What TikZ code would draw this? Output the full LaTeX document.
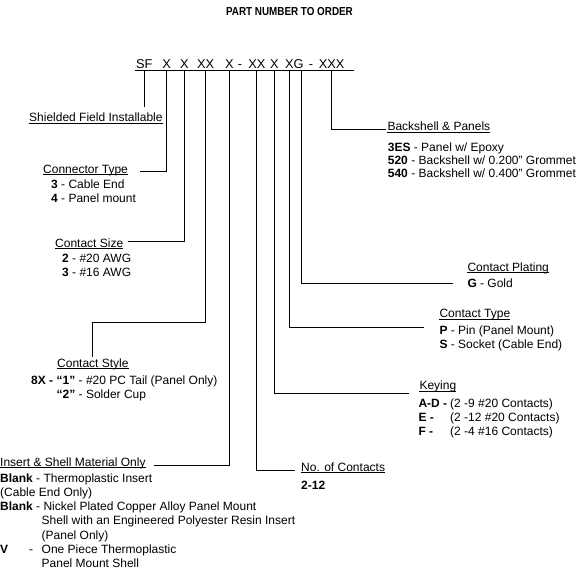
\documentclass[tikz,border=0pt]{standalone}
\usepackage{fontspec}
\setmainfont{Liberation Sans}
\usepackage{graphicx}
\begin{document}
\begin{tikzpicture}[x=1pt, y=1pt,
    lbl/.style={anchor=base west, inner sep=0pt, font=\fontsize{12}{14}\selectfont},
    lst/.style={lbl, align=left},
    code/.style={anchor=base, inner sep=0pt, font=\fontsize{12.8}{14}\selectfont},
    lead/.style={line width=1pt},
    ulline/.style={line width=0.7pt}]
  \useasboundingbox[fill=white] (0,0) rectangle (576,-582);

  % title
  \node[anchor=base, inner sep=0pt, font=\fontsize{11.6}{14}\selectfont\bfseries] (title) at (289.5,-15) {\scalebox{0.85}[1]{PART NUMBER TO ORDER}};

  % part number
  \node[code] (sf) at (144.3,-68.5) {SF};
  \node[code] (x1) at (166.7,-68.5) {X};
  \node[code] (x2) at (184.3,-68.5) {X};
  \node[code] (xx1) at (205.7,-68.5) {XX};
  \node[code] (x3) at (229.3,-68.5) {X};
  \node[code] (dash1) at (240,-68.5) {-};
  \node[code] (xx2) at (256.9,-68.5) {XX};
  \node[code] (x4) at (274.3,-68.5) {X};
  \node[code] (x5) at (289.3,-68.5) {X};
  \node[code] (g) at (298.5,-68.5) {G};
  \node[code] (dash2) at (311,-68.5) {-};
  \node[code] (xxx) at (331.6,-68.5) {XXX};
  \coordinate (gtick) at ([xshift=2.8pt]g.base);
  \coordinate (barl) at (135,-70);
  \coordinate (barr) at (354,-70);
  \draw[lead] (barl) -- (barr);

  % field labels
  \node[lbl] (lsf) at (29,-121.5) {Shielded Field Installable};
  \node[lbl] (lct) at (43,-173) {Connector Type};
  \node[lbl] (lcs) at (55,-247) {Contact Size};
  \node[lbl] (lsty) at (57,-367) {Contact Style};
  \node[lbl] (lins) at (0,-466) {Insert \& Shell Material Only};
  \node[lbl] (lnc) at (301,-471) {No. of Contacts\hspace{3pt}};
  \node[lbl] (lkey) at (419.3,-389.3) {Keying};
  \node[lbl] (lctp) at (439.3,-317.5) {Contact Type\hspace{4pt}};
  \node[lbl] (lpl) at (467.3,-271) {Contact Plating};
  \node[lbl] (lbs) at (387.3,-130.3) {Backshell \& Panels};
  \foreach \n in {lsf,lct,lcs,lsty,lins,lnc,lkey,lctp,lpl,lbs}
    \draw[ulline] ([yshift=-1.6pt]\n.base west) -- ([yshift=-1.6pt]\n.base east);

  % option lists (placed at the baseline of their last line)
  \node[lst] (ctlist) at (51,-202.6) {\textbf{3} - Cable End\\\textbf{4} - Panel mount};
  \node[lst] (cslist) at (62,-276.8) {\textbf{2} - \#20 AWG\\\textbf{3} - \#16 AWG};
  \node[lst] (stylist) at (31,-398.3) {\makebox[25.5pt][l]{\textbf{8X -}}\textbf{“1”} - \#20 PC Tail (Panel Only)\\
    \hspace*{25.5pt}\textbf{“2”} - Solder Cup};
  \node[lst, font=\fontsize{12}{14.25}\selectfont] (inslist) at (0,-567.5) {\textbf{Blank} - Thermoplastic Insert\\
    (Cable End Only)\\
    \textbf{Blank} - Nickel Plated Copper Alloy Panel Mount\\
    \hspace*{41.5pt}Shell with an Engineered Polyester Resin Insert\\
    \hspace*{41.5pt}(Panel Only)\\
    \makebox[29pt][l]{\textbf{V}}\makebox[12.5pt][l]{-}One Piece Thermoplastic\\
    \hspace*{41.5pt}Panel Mount Shell};
  \node[lst] (nclist) at (301,-489.6) {\textbf{2-12}};
  \node[lst] (keylist) at (418.3,-435) {\makebox[31.7pt][l]{\textbf{A-D -}}(2 -9 \#20 Contacts)\\
    \makebox[31.7pt][l]{\textbf{E -}}(2 -12 \#20 Contacts)\\
    \makebox[31.7pt][l]{\textbf{F -}}(2 -4 \#16 Contacts)};
  \node[lst] (ctplist) at (439.3,-348.6) {\textbf{P} - Pin (Panel Mount)\\\textbf{S} - Socket (Cable End)};
  \node[lst] (pllist) at (467.3,-287) {\textbf{G} - Gold};
  \node[lst, font=\fontsize{12}{13.3}\selectfont] (bslist) at (387.7,-177.6) {\textbf{3ES} - Panel w/ Epoxy\\
    \textbf{520} - Backshell w/ 0.200" Grommet\\
    \textbf{540} - Backshell w/ 0.400" Grommet};

  % leaders
  \draw[lead] (sf |- barl) -- ([yshift=5.8pt]sf |- lsf.north);
  \draw[lead] (x1 |- barl) |- ([shift={(11.6,1.3)}]lct.base east);
  \draw[lead] (x2 |- barl) |- ([shift={(5,6)}]lcs.base east);
  \draw[lead] (xx1 |- barl) -- ++(0,-252.7) -| ([yshift=1.3pt]lsty.north);
  \draw[lead] (x3 |- barl) |- ([shift={(8,0.5)}]lins.base east);
  \draw[lead] (xx2 |- barl) |- ([shift={(-6,1)}]lnc.base west);
  \draw[lead] (x4 |- barl) |- ([shift={(-10.3,-4)}]lkey.base west);
  \draw[lead] (x5 |- barl) |- ([shift={(-15.3,-9.7)}]lctp.base west);
  \draw[lead] (gtick |- barl) |- ([shift={(-14,-12.3)}]lpl.base west);
  \draw[lead] (xxx |- barl) |- ([shift={(-1.3,1)}]lbs.base west);
\end{tikzpicture}
\end{document}
